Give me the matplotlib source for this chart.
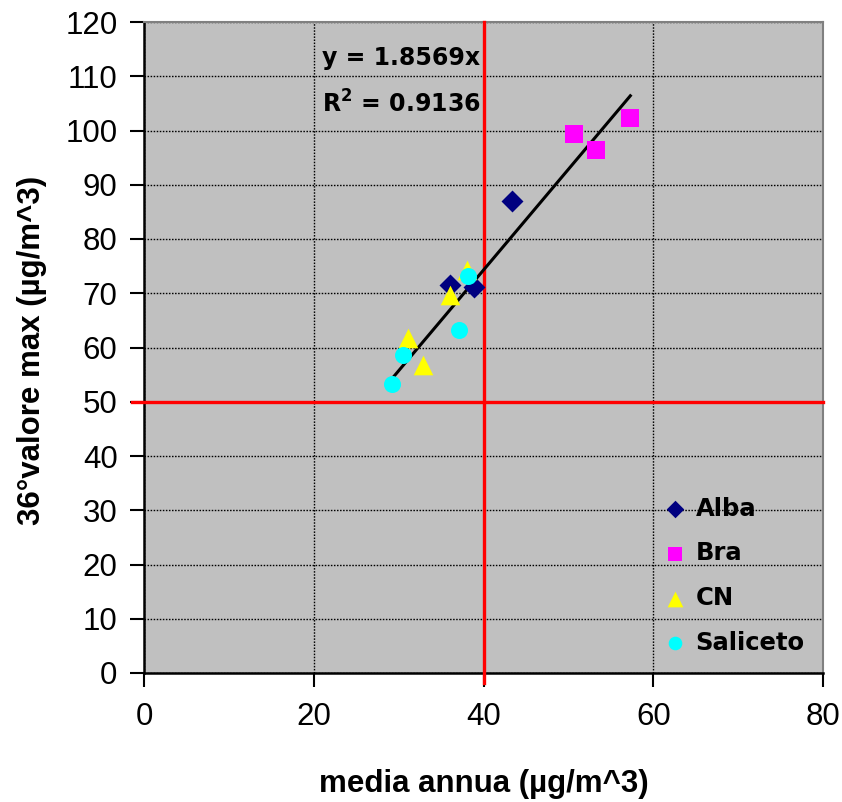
import matplotlib
matplotlib.use("Agg")
import matplotlib.pyplot as plt
import numpy as np

# ---- data ----
alba_x = [43.4, 36.1, 38.9]
alba_y = [87.0, 71.5, 71.2]
bra_x = [50.7, 53.3, 57.3]
bra_y = [99.4, 96.4, 102.3]
cn_x = [36.1, 38.1, 31.1, 32.9]
cn_y = [69.7, 74.3, 61.8, 56.8]
sal_x = [38.2, 37.1, 30.5, 29.2]
sal_y = [73.2, 63.2, 58.6, 53.3]
slope = 1.8569
r2 = 0.9136
limit_x = 40
limit_y = 50
x_ticks = [0, 20, 40, 60, 80]
y_ticks = list(range(0, 121, 10))

plt.rcParams['font.family'] = ['DejaVu Sans']
AX_FONT = ['Liberation Sans', 'DejaVu Sans']

fig = plt.figure(figsize=(8.42, 8.02), dpi=100)
ax = fig.add_axes([144/842, 1-673/802, (823-144)/842, (673-22)/802])
ax.set_facecolor('#C0C0C0')
ax.set_xlim(0, 80)
ax.set_ylim(0, 120)
ax.set_xticks(x_ticks)
ax.set_yticks(y_ticks)
ax.tick_params(length=10, width=1.5, direction='out', colors='black')
ax.tick_params(axis='y', pad=9)
ax.tick_params(axis='x', pad=11)
for lab in ax.get_xticklabels() + ax.get_yticklabels():
    lab.set_fontfamily(AX_FONT)
    lab.set_fontsize(22.5)
ax.grid(True, color='black', linestyle=(0, (1.1, 1.1)), linewidth=1.0)
ax.set_axisbelow(True)
for s in ['left', 'bottom']:
    ax.spines[s].set_linewidth(1.8)
    ax.spines[s].set_color('black')
for s in ['top', 'right']:
    ax.spines[s].set_linewidth(1.5)
    ax.spines[s].set_color('#808080')

# red limit lines
ax.plot([limit_x, limit_x], [-1.9, 120], color='#FF0000', lw=2.4, clip_on=False, zorder=3)
ax.plot([-1.4, 80], [limit_y, limit_y], color='#FF0000', lw=2.4, clip_on=False, zorder=3)

# trend line
all_x = np.array(alba_x + bra_x + cn_x + sal_x)
tx = np.array([all_x.min(), all_x.max()])
ax.plot(tx, slope * tx, color='black', lw=2.2, zorder=4)

ax.scatter(alba_x, alba_y, marker='D', s=125, color='#000080', label='Alba', zorder=5, linewidths=0)
ax.scatter(bra_x, bra_y, marker='s', s=150, color='#FF00FF', label='Bra', zorder=5, linewidths=0)
ax.scatter(cn_x, cn_y, marker='^', s=200, color='#FFFF00', label='CN', zorder=5, linewidths=0)
ax.scatter(sal_x, sal_y, marker='o', s=150, color='#00FFFF', label='Saliceto', zorder=5, linewidths=0)

ax.text(21.0, 113.4, 'y = %.4fx' % slope, fontsize=17, fontweight='bold', va='center', ha='left')
ax.text(21.0, 104.9, '$\\mathbf{R^2}$ = %.4f' % r2, fontsize=17, fontweight='bold', va='center', ha='left')

leg = ax.legend(loc='lower right', bbox_to_anchor=(1.0, 0.0), frameon=False,
                prop={'weight': 'bold', 'size': 17.5}, handletextpad=0.25,
                labelspacing=0.85, borderaxespad=0.35, handlelength=1.2, markerscale=0.8)

ax.set_xlabel('media annua (µg/m^3)', fontsize=22.5, fontweight='bold', fontfamily=AX_FONT)
ax.xaxis.set_label_coords(0.5, -0.147)
ax.set_ylabel('36°valore max (µg/m^3)', fontsize=22.5, fontweight='bold', fontfamily=AX_FONT)
ax.yaxis.set_label_coords(-0.143, 0.495)

fig.savefig('out.png', dpi=100, facecolor='white')
